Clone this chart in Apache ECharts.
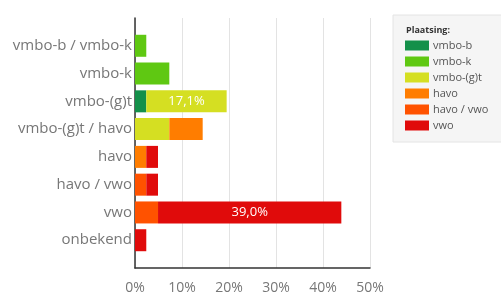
<!DOCTYPE html>
<html>
<head>
<meta charset="utf-8">
<script src="https://cdn.jsdelivr.net/npm/echarts@6/dist/echarts.min.js"></script>
<style>
  html, body { margin: 0; padding: 0; background: #fff; }
  #main { width: 501px; height: 295px; }
</style>
</head>
<body>
<div id="main"></div>
<script>
// categorieën (lege plaats boven en onder voor de ruimte)
var categories = ["", "vmbo-b / vmbo-k", "vmbo-k", "vmbo-(g)t", "vmbo-(g)t / havo",
  "havo", "havo / vwo", "vwo", "onbekend", ""];
var seriesNames = ["vmbo-b", "vmbo-k", "vmbo-(g)t", "havo", "havo / vwo", "vwo"];
var seriesColors = ["#14904a", "#5fc812", "#d5df22", "#ff7d00", "#ff5200", "#e00b0b"];
var vmboB   = ["-", "-", "-", 2.4, "-", "-", "-", "-", "-", "-"];
var vmboK   = ["-", 2.4, 7.3, "-", "-", "-", "-", "-", "-", "-"];
var vmboGt  = ["-", "-", "-", 17.1, 7.3, "-", "-", "-", "-", "-"];
var havo    = ["-", "-", "-", "-", 7.1, 2.4, "-", "-", "-", "-"];
var havoVwo = ["-", "-", "-", "-", "-", "-", 2.4, 4.9, "-", "-"];
var vwo     = ["-", "-", "-", "-", "-", 2.5, 2.5, 39.0, 2.4, "-"];
var seriesData = [vmboB, vmboK, vmboGt, havo, havoVwo, vwo];
var xTicks = [0, 10, 20, 30, 40, 50];

var chart = echarts.init(document.getElementById("main"));
var font = "Open Sans";

var option = {
  animation: false,
  textStyle: { fontFamily: font },
  title: {
    text: "Plaatsing:",
    left: 401,
    top: 21,
    textStyle: { fontSize: 9, fontWeight: "bold", color: "#333", fontFamily: font },
  },
  legend: {
    orient: "vertical",
    left: 393,
    top: 15,
    padding: [25, 40, 11, 12],
    backgroundColor: "#f5f5f5",
    borderColor: "#e4e4e4",
    borderWidth: 1,
    itemWidth: 24,
    itemHeight: 10,
    itemGap: 5,
    icon: "rect",
    textStyle: { fontSize: 11, color: "#555", fontFamily: font, padding: [0, 0, 0, -1] },
    data: seriesNames,
  },
  grid: { left: 135, right: 131, top: 18, bottom: 24 },
  xAxis: {
    type: "value",
    min: xTicks[0],
    max: xTicks[xTicks.length - 1],
    interval: 10,
    axisLine: { show: true, lineStyle: { color: "#333", width: 1.5 } },
    axisTick: { show: false },
    splitLine: { lineStyle: { color: "#e3e3e3" } },
    axisLabel: { formatter: "{value}%", fontSize: 14, color: "#777", margin: 13 },
  },
  yAxis: {
    type: "category",
    inverse: true,
    boundaryGap: false,
    data: categories,
    axisLine: { lineStyle: { color: "#333", width: 1.5 } },
    axisTick: { show: false },
    axisLabel: { fontSize: 15, color: "#777", margin: 3 },
  },
  series: seriesNames.map(function (name, i) {
    return {
      name: name,
      type: "bar",
      stack: "totaal",
      barWidth: 22,
      data: seriesData[i],
      itemStyle: { color: seriesColors[i] },
      label: {
        show: true,
        color: "#fff",
        fontSize: 13,
        fontFamily: font,
        formatter: function (p) {
          return p.value >= 10 ? p.value.toFixed(1).replace(".", ",") + "%" : "";
        },
      },
    };
  }),
};

chart.setOption(option);
</script>
</body>
</html>
